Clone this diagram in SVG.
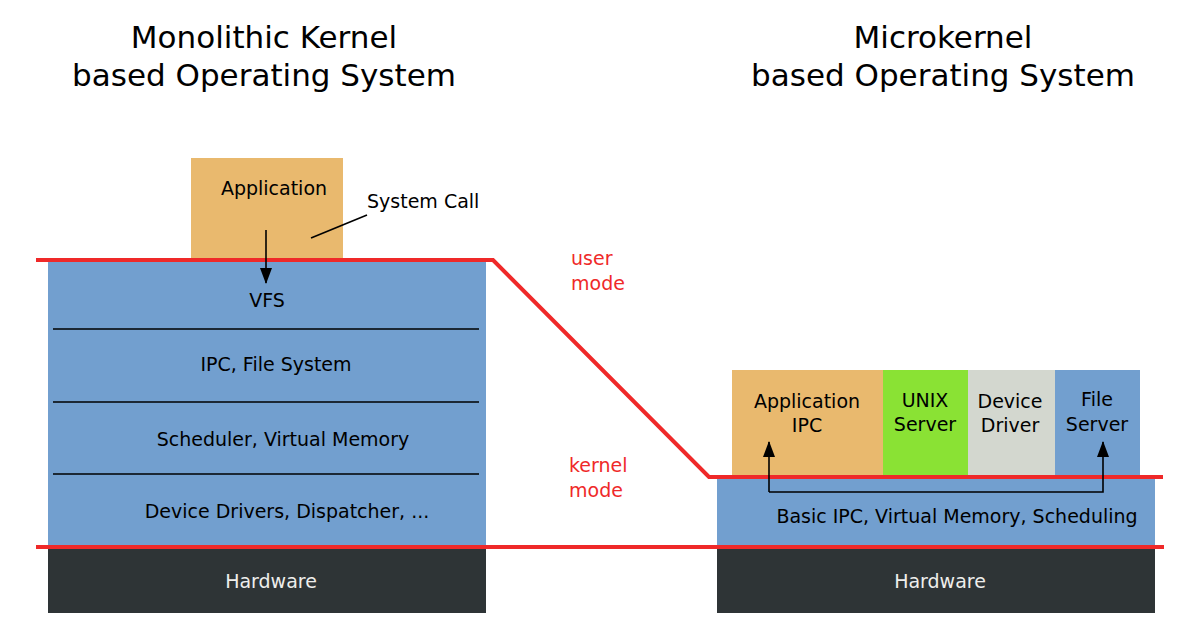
<svg xmlns="http://www.w3.org/2000/svg" width="1200" height="640" viewBox="0 0 1200 640">
<defs>
<marker id="ah" viewBox="0 0 16 12" refX="15" refY="6" markerWidth="16" markerHeight="12" markerUnits="userSpaceOnUse" orient="auto">
<path d="M0,0 L16,6 L0,12 z" fill="#000"/>
</marker>
<style>
text{font-family:"DejaVu Sans",sans-serif;font-size:19px;fill:#000;}
.t{font-size:31px;text-anchor:middle;}
.c{text-anchor:middle;}
.red{fill:#ef2929;}
.hw{fill:#eeeeec;text-anchor:middle;}
.redl{stroke:#ef2929;stroke-width:4;fill:none;}
.ln{stroke:#000;stroke-width:1.6;fill:none;}
</style>
</defs>
<rect width="1200" height="640" fill="#fff"/>
<text class="t" x="264" y="48">Monolithic Kernel</text>
<text class="t" x="264" y="86">based Operating System</text>
<text class="t" x="943" y="48">Microkernel</text>
<text class="t" x="943" y="86">based Operating System</text>

<g id="mono-app"><rect x="191" y="158" width="152" height="102" fill="#e9b96e"/><text class="c" x="274" y="195">Application</text></g>
<g id="mono-kernel"><rect x="48" y="260" width="438" height="287" fill="#729fcf"/>
<g stroke="#000" stroke-width="1.5"><line x1="53" y1="329" x2="479" y2="329"/><line x1="53" y1="402" x2="479" y2="402"/><line x1="53" y1="474" x2="479" y2="474"/></g>
<text class="c" x="267" y="307">VFS</text>
<text class="c" x="276" y="371">IPC, File System</text>
<text class="c" x="283" y="446">Scheduler, Virtual Memory</text>
<text class="c" x="287" y="518">Device Drivers, Dispatcher, ...</text></g>
<g id="mono-hw"><rect x="48" y="547" width="438" height="66" fill="#2e3436"/><text class="hw" x="271" y="588">Hardware</text></g>

<g id="micro-app"><rect x="732" y="370" width="151" height="107" fill="#e9b96e"/><text class="c" x="807" y="408">Application</text><text class="c" x="807" y="432">IPC</text></g>
<g id="micro-unix"><rect x="883" y="370" width="85" height="107" fill="#8ae234"/><text class="c" x="925" y="407">UNIX</text><text class="c" x="925" y="431">Server</text></g>
<g id="micro-dev"><rect x="968" y="370" width="87" height="107" fill="#d3d7cf"/><text class="c" x="1010" y="408">Device</text><text class="c" x="1010" y="432">Driver</text></g>
<g id="micro-fs"><rect x="1055" y="370" width="85" height="107" fill="#729fcf"/><text class="c" x="1097" y="406">File</text><text class="c" x="1097" y="431">Server</text></g>
<g id="micro-kernel"><rect x="717" y="477" width="438" height="70" fill="#729fcf"/><text class="c" x="957" y="523">Basic IPC, Virtual Memory, Scheduling</text></g>
<g id="micro-hw"><rect x="717" y="547" width="438" height="66" fill="#2e3436"/><text class="hw" x="940" y="588">Hardware</text></g>

<g id="connectors">
<path class="redl" d="M36,260 H493 L709,477 H1163"/>
<line class="redl" x1="36" y1="547" x2="1164" y2="547"/>
<line class="ln" x1="266" y1="230" x2="266" y2="283" marker-end="url(#ah)"/>
<line class="ln" x1="311" y1="238" x2="367" y2="215"/>
<path class="ln" d="M769,492 H1103 V442" marker-end="url(#ah)"/>
<path class="ln" d="M769,492 V442" marker-end="url(#ah)"/>
</g>
<text x="367" y="208">System Call</text>
<text class="red" x="571" y="265">user</text>
<text class="red" x="571" y="290">mode</text>
<text class="red" x="569" y="472">kernel</text>
<text class="red" x="569" y="497">mode</text>
</svg>
